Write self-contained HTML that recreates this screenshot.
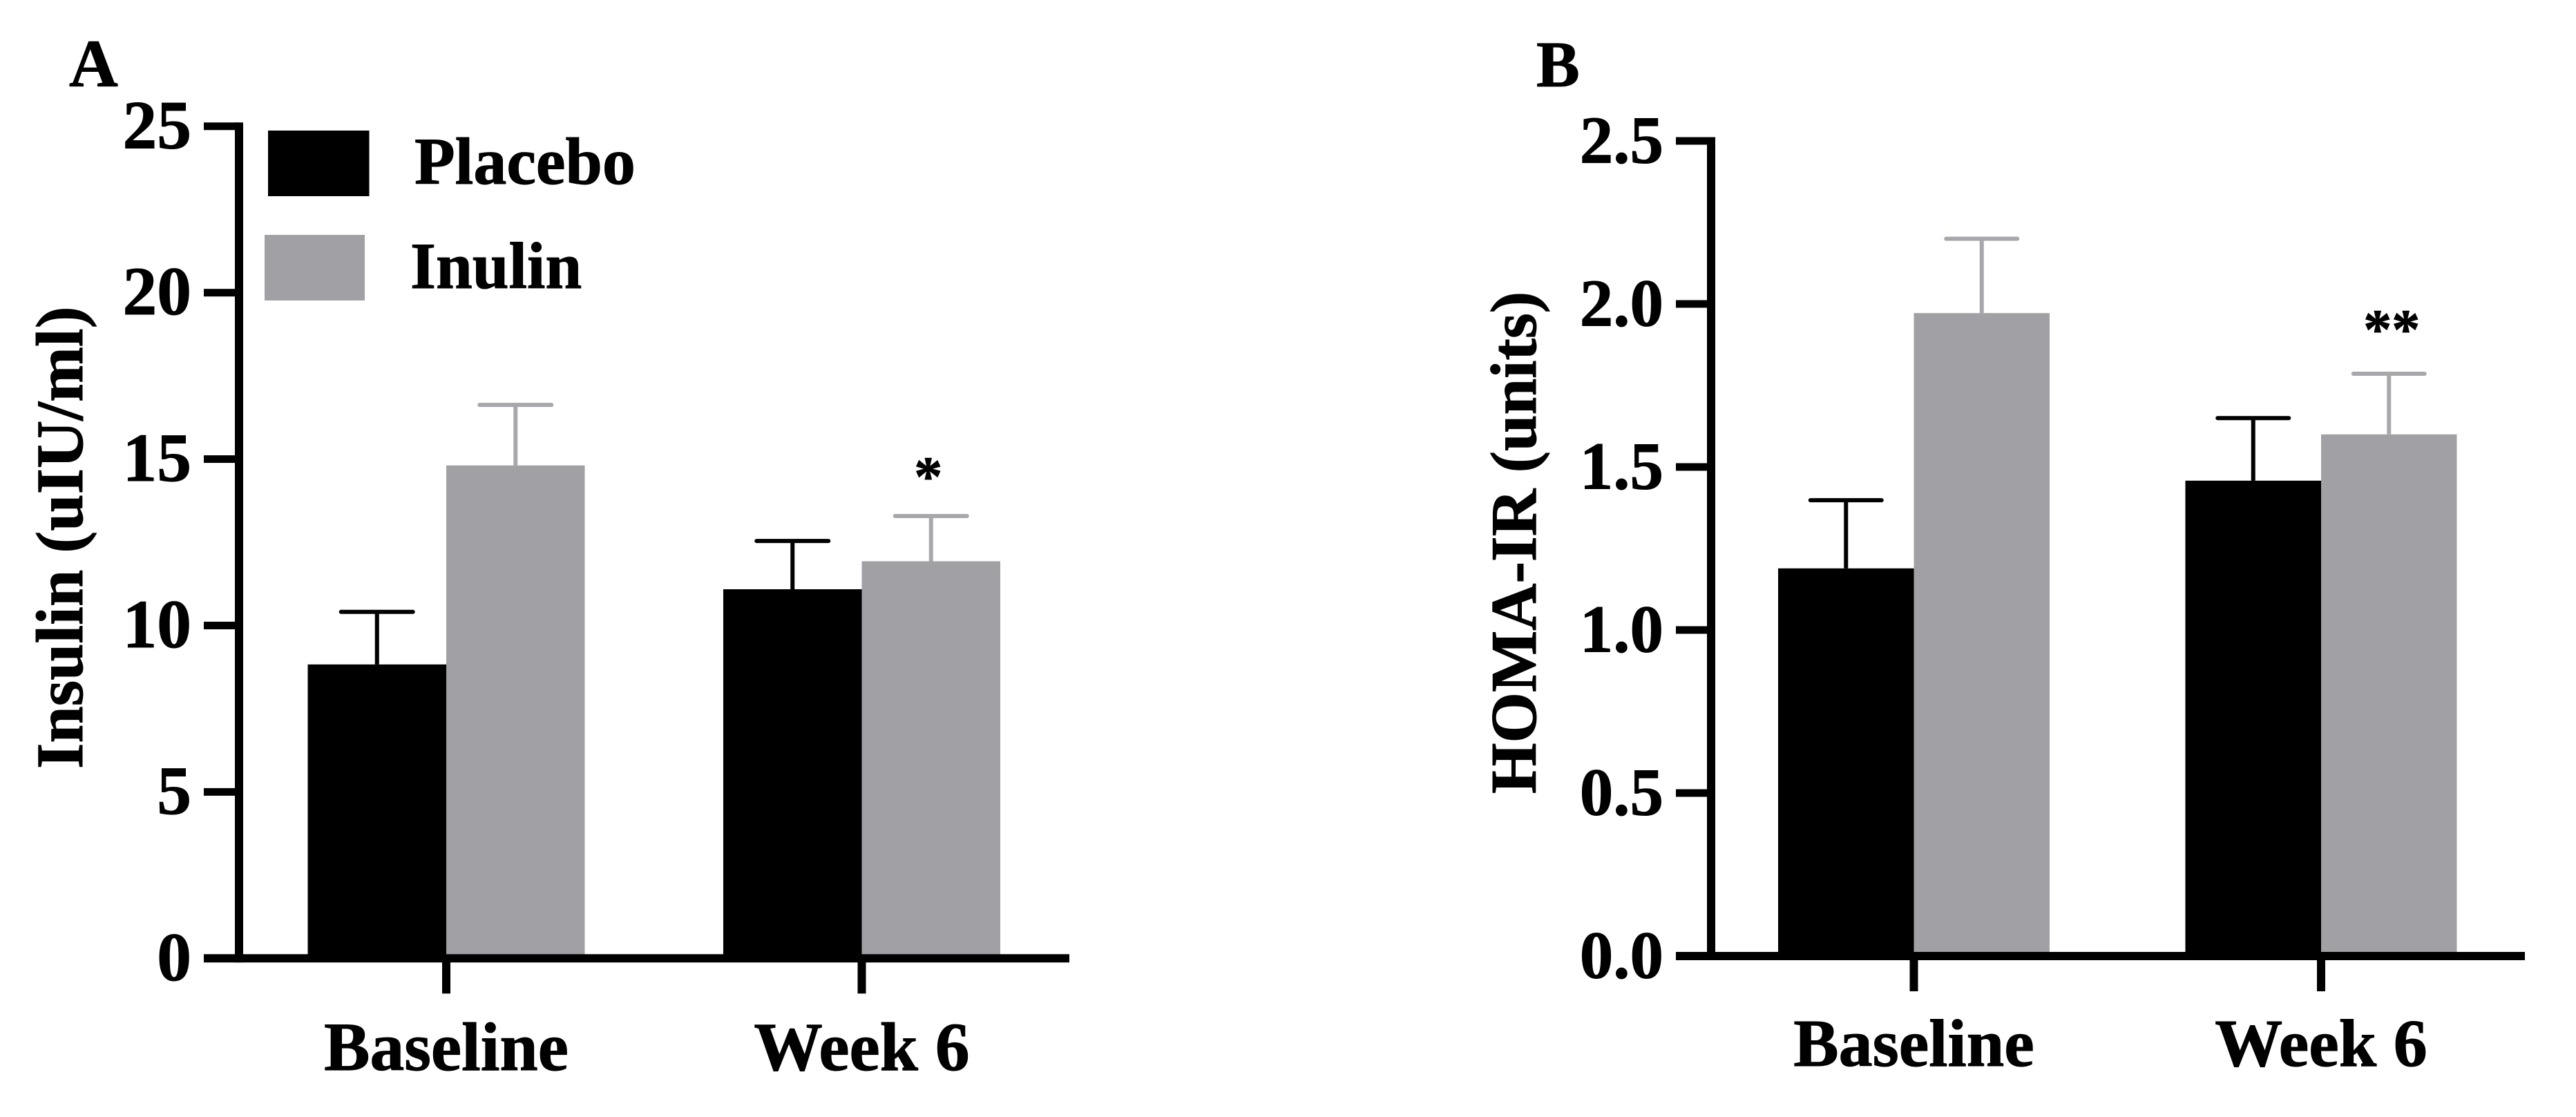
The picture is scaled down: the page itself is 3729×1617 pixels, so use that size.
<!DOCTYPE html>
<html lang="en">
<head>
<meta charset="utf-8">
<title>Insulin and HOMA-IR bar charts</title>
<style>
html,body{margin:0;padding:0;background:#fff;width:3729px;height:1617px;overflow:hidden}
svg{display:block}
text{font-family:"Liberation Serif",serif;font-weight:700;fill:#000;stroke:#000;stroke-width:1px}
</style>
</head>
<body>
<svg id="figure" xmlns="http://www.w3.org/2000/svg" width="3729" height="1617" viewBox="0 0 3729 1617">
  <rect x="0" y="0" width="3729" height="1617" fill="#fff"/>
  <text x="100" y="125" font-size="98">A</text>
  <text x="2224" y="125" font-size="94">B</text>
  <text transform="translate(119,1113) rotate(-90)" font-size="96">Insulin (uIU/ml)</text>
  <text transform="translate(2223,1149) rotate(-90)" font-size="94.500">HOMA-IR (units)</text>
  <g>
    <rect x="388" y="189" width="146.500" height="95" fill="#000"/>
    <text x="600" y="266" font-size="96">Placebo</text>
    <rect x="383" y="340" width="145" height="95" fill="#a1a1a5"/>
    <text x="594" y="417" font-size="95">Inulin</text>
  </g>
</svg>
<script>
// Shared categories
const categories = ['Baseline', 'Week 6'];

// Panel A: Insulin (uIU/ml)
const insulinTicks = [0, 5, 10, 15, 20, 25];
const insulinTickLabels = ['0', '5', '10', '15', '20', '25'];
const insulinPlacebo = [8.83, 11.09];
const insulinInulin = [14.81, 11.93];
const insulinPlaceboUpper = [10.41, 12.54];
const insulinInulinUpper = [16.63, 13.29];
const insulinMarks = ['', '*'];

// Panel B: HOMA-IR (units)
const homaTicks = [0, 0.5, 1, 1.5, 2, 2.5];
const homaTickLabels = ['0.0', '0.5', '1.0', '1.5', '2.0', '2.5'];
const homaPlacebo = [1.189, 1.458];
const homaInulin = [1.972, 1.6];
const homaPlaceboUpper = [1.398, 1.65];
const homaInulinUpper = [2.2, 1.786];
const homaMarks = ['', '**'];

const SVG_NS = 'http://www.w3.org/2000/svg';
const figure = document.getElementById('figure');
const BLACK = '#000000';
const GRAY = '#a1a1a5';
const GRAY_ERR = '#a8a8ac';

function mk(parent, tag, attrs, text) {
  const el = document.createElementNS(SVG_NS, tag);
  for (const k in attrs) el.setAttribute(k, attrs[k]);
  if (text !== undefined) el.textContent = text;
  parent.appendChild(el);
  return el;
}

function drawPanel(p) {
  const yScale = function (v) { return p.y0 - v * p.pxPerUnit; };
  const xScale = function (i) { return p.x0 + i * p.step; };

  const g = mk(figure, 'g', {});
  
  

  const series = [
    { key: 'placebo', values: p.placebo, upper: p.placeboUpper, fill: BLACK, err: BLACK, side: -1 },
    { key: 'inulin', values: p.inulin, upper: p.inulinUpper, fill: GRAY, err: GRAY_ERR, side: 1 }
  ];

  series.forEach(function (s) {
    s.values.forEach(function (v, i) {
      const cx = xScale(i);
      const left = s.side < 0 ? cx - p.barW : cx;
      const mid = left + p.barW / 2;
      const top = yScale(v);
      const capY = yScale(s.upper[i]);

      const stem = mk(g, 'line', { x1: mid, x2: mid, y1: capY, y2: top, stroke: s.err, 'stroke-width': 6 });
      
      

      const cap = mk(g, 'line', { x1: mid - p.capHalf, x2: mid + p.capHalf, y1: capY, y2: capY, stroke: s.err, 'stroke-width': 6, 'stroke-linecap': 'round' });
      
      

      const bar = mk(g, 'rect', { x: left, y: top, width: p.barW, height: p.y0 - top, fill: s.fill });
      
      
    });
  });

  // Significance markers sit above the inulin error caps
  p.marks.forEach(function (m, i) {
    if (!m) return;
    const star = mk(g, 'text', { x: xScale(i) + p.barW / 2 + p.markDx, y: yScale(p.inulinUpper[i]) - p.markDy, 'font-size': 82, 'text-anchor': 'middle' }, m);
    
    
  });

  const xAxis = mk(g, 'rect', { x: p.axisX - 51, y: p.y0 - 6, width: p.axisEnd - p.axisX + 51, height: 12, fill: BLACK });
  
  

  const yAxis = mk(g, 'rect', { x: p.axisX - 6, y: yScale(p.ticks[p.ticks.length - 1]) - 5.5, width: 12, height: p.y0 + 6 - yScale(p.ticks[p.ticks.length - 1]) + 5.5, fill: BLACK });
  
  

  p.ticks.forEach(function (t, i) {
    const y = yScale(t);
    const tick = mk(g, 'rect', { x: p.axisX - 51, y: y - 5.5, width: 51, height: 11, fill: BLACK });
    
    

    const label = mk(g, 'text', { x: p.labelRight, y: y + 31.5, 'font-size': p.tickFont, 'text-anchor': 'end' }, p.tickLabels[i]);
    
    
  });

  categories.forEach(function (c, i) {
    const x = xScale(i);
    const tick = mk(g, 'rect', { x: x - 6, y: p.y0, width: 12, height: 51, fill: BLACK });
    
    

    const label = mk(g, 'text', { x: x, y: p.catBase, 'font-size': p.catFont, 'text-anchor': 'middle' }, c);
    
    
  });
}

drawPanel({
  name: 'panel-a-insulin',
  y0: 1387.3, pxPerUnit: 48.18, x0: 646, step: 601.5, barW: 200.5, capHalf: 52,
  axisX: 346, axisEnd: 1548, labelRight: 277, tickFont: 99.500, catBase: 1549, catFont: 99.500,
  ticks: insulinTicks, tickLabels: insulinTickLabels,
  placebo: insulinPlacebo, inulin: insulinInulin,
  placeboUpper: insulinPlaceboUpper, inulinUpper: insulinInulinUpper,
  marks: insulinMarks, markDx: -4, markDy: 30
});

drawPanel({
  name: 'panel-b-homa-ir',
  y0: 1384, pxPerUnit: 472, x0: 2770.5, step: 589.5, barW: 196.5, capHalf: 51.5,
  axisX: 2477, axisEnd: 3655, labelRight: 2408, tickFont: 97, catBase: 1543, catFont: 98,
  ticks: homaTicks, tickLabels: homaTickLabels,
  placebo: homaPlacebo, inulin: homaInulin,
  placeboUpper: homaPlaceboUpper, inulinUpper: homaInulinUpper,
  marks: homaMarks, markDx: 4, markDy: 37
});
</script>
</body>
</html>
